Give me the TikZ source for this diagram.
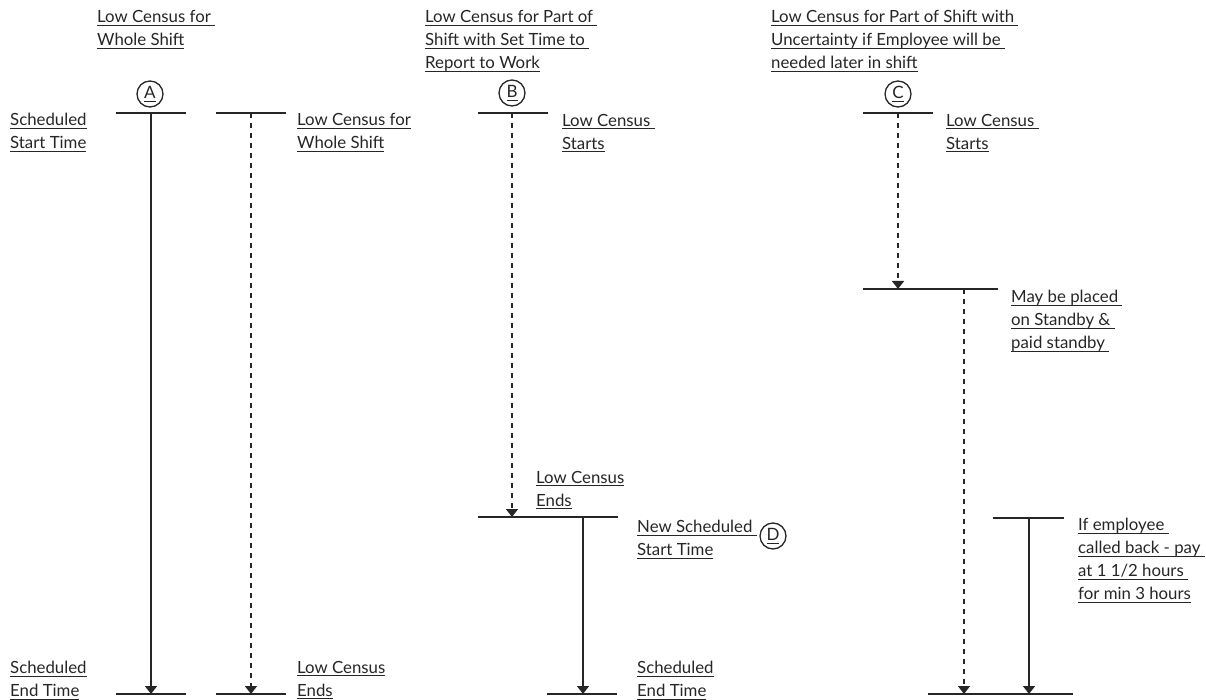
\documentclass[tikz,border=0pt]{standalone}
\usepackage{fontspec}
\setmainfont{Lato}
\usetikzlibrary{arrows.meta}
\definecolor{ink}{HTML}{262626}
\newsavebox\ulbox
\newcommand\ul[1]{\sbox\ulbox{#1}\rlap{\rule[-3pt]{\wd\ulbox}{0.9pt}}\usebox\ulbox}
\begin{document}
\begin{tikzpicture}[x=1pt,y=-1pt,
  lbl/.style={anchor=north west, align=left, inner sep=0pt, text=ink,
    font=\fontsize{16.8}{23}\selectfont},
  mark circ/.style={circle, draw=ink, line width=1.3pt, minimum size=26pt, inner sep=0pt,
    text=ink, font=\fontsize{17}{17}\selectfont},
  barline/.style={draw=ink, line width=1.7pt},
  solidarrow/.style={draw=ink, line width=1.5pt, -{Triangle[width=12pt,length=8pt]}},
  dasharrow/.style={draw=ink, line width=1.5pt, dash pattern=on 5pt off 5pt, -{Triangle[width=12pt,length=8pt]}}]
\useasboundingbox (0,0) rectangle (1206,700);

% titles
\node[lbl] (tA) at (97,10) {\ul{Low Census for }\\\ul{Whole Shift}};
\node[lbl] (tB) at (425,10) {\ul{Low Census for Part of }\\\ul{Shift with Set Time to }\\\ul{Report to Work}};
\node[lbl] (tC) at (771,10) {\ul{Low Census for Part of Shift with }\\\ul{Uncertainty if Employee will be }\\\ul{needed later in shift}};

% circles
\node[mark circ] (cA) at (150,94) {\ul{A}};
\node[mark circ] (cB) at (512,93) {\ul{B}};
\node[mark circ] (cC) at (898,94) {\ul{C}};
\node[mark circ] (cD) at (773,536) {\ul{D}};

% labels
\node[lbl] (sst) at (10,113) {\ul{Scheduled}\\\ul{Start Time}};
\node[lbl] (lcw) at (297,113) {\ul{Low Census for}\\\ul{Whole Shift}};
\node[lbl] (setA) at (10,661) {\ul{Scheduled}\\\ul{End Time}};
\node[lbl] (lceA) at (297,661) {\ul{Low Census}\\\ul{Ends}};
\node[lbl] (lcsB) at (562,114) {\ul{Low Census }\\\ul{Starts}};
\node[lbl] (lceB) at (536,471) {\ul{Low Census}\\\ul{Ends}};
\node[lbl] (nst) at (637,520) {\ul{New Scheduled }\\\ul{Start Time}};
\node[lbl] (setB) at (637,661) {\ul{Scheduled}\\\ul{End Time}};
\node[lbl] (lcsC) at (946,114) {\ul{Low Census }\\\ul{Starts}};
\node[lbl] (mbp) at (1011,290) {\ul{May be placed }\\\ul{on Standby \& }\\\ul{paid standby }};
\node[lbl] (ife) at (1078,518) {\ul{If employee }\\\ul{called back - pay }\\\ul{at 1 1/2 hours }\\\ul{for min 3 hours}};

% coordinates
\coordinate (a1t) at (151,113);
\coordinate (a1b) at (151,694);
\coordinate (a2t) at (251,113);
\coordinate (a2b) at (251,694);
\coordinate (bt) at (512,113);
\coordinate (bm) at (512,517);
\coordinate (bm2) at (583,517);
\coordinate (bb) at (583,694);
\coordinate (ct) at (898,113);
\coordinate (cm) at (898,289);
\coordinate (cm2) at (964,289);
\coordinate (cb) at (964,694);
\coordinate (ch) at (1029,518);
\coordinate (cb2) at (1029,694);

% bars
\draw[barline] (116,113) -- (186,113);
\draw[barline] (116,694) -- (186,694);
\draw[barline] (216,113) -- (286,113);
\draw[barline] (216,694) -- (286,694);
\draw[barline] (478,113) -- (548,113);
\draw[barline] (478,517) -- (618,517);
\draw[barline] (547,694) -- (617,694);
\draw[barline] (863,113) -- (933,113);
\draw[barline] (863,289) -- (998,289);
\draw[barline] (993,518) -- (1064,518);
\draw[barline] (928,694) -- (1073,694);

% verticals
\draw[solidarrow] (a1t) -- (a1b);
\draw[dasharrow] (a2t) -- (a2b);
\draw[dasharrow] (bt) -- (bm);
\draw[solidarrow] (bm2) -- (bb);
\draw[dasharrow] (ct) -- (cm);
\draw[dasharrow] (cm2) -- (cb);
\draw[solidarrow] (ch) -- (cb2);
\end{tikzpicture}
\end{document}
